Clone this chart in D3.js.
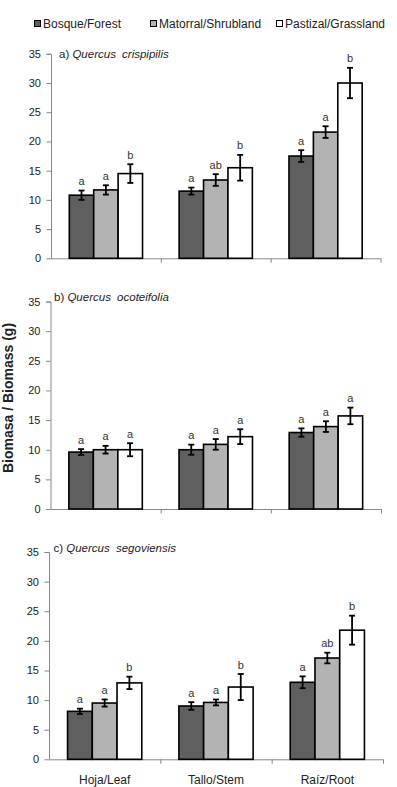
<!DOCTYPE html>
<html>
<head>
<meta charset="utf-8">
<script src="https://cdn.jsdelivr.net/npm/d3@7"></script>
<style>
  html, body { margin: 0; padding: 0; background: #fff; }
  svg { display: block; font-family: Arial, "Liberation Sans", sans-serif; }
</style>
</head>
<body>
<svg id="chart" width="397" height="787"></svg>
<script>
// ---------------- DATA ----------------
const categories = ["Hoja/Leaf", "Tallo/Stem", "Raíz/Root"];
const seriesNames = ["Bosque/Forest", "Matorral/Shrubland", "Pastizal/Grassland"];
const yTicks = [0, 5, 10, 15, 20, 25, 30, 35];
const panelLetters = ["a)", "b)", "c)"];
const speciesGenus = ["Quercus", "Quercus", "Quercus"];
const speciesEpithet = ["crispipilis", "ocoteifolia", "segoviensis"];

// means: rows = categories (Hoja, Tallo, Raíz); columns = series (Forest, Shrubland, Grassland)
const crispipilisMean = [[10.8, 11.7, 14.5], [11.5, 13.4, 15.5], [17.5, 21.6, 30.0]];
const crispipilisErr  = [[0.8, 0.8, 1.6],   [0.6, 1.0, 2.2],   [1.0, 1.0, 2.6]];
const crispipilisSig  = [["a", "a", "b"],  ["a", "ab", "b"],  ["a", "a", "b"]];

const ocoteifoliaMean = [[9.6, 10.0, 10.0], [10.0, 10.9, 12.2], [12.9, 13.9, 15.7]];
const ocoteifoliaErr  = [[0.5, 0.65, 1.1],  [0.85, 0.9, 1.25],  [0.7, 0.9, 1.4]];
const ocoteifoliaSig  = [["a", "a", "a"],  ["a", "a", "a"],    ["a", "a", "a"]];

const segoviensisMean = [[8.1, 9.5, 12.9], [9.0, 9.6, 12.2], [13.0, 17.1, 21.8]];
const segoviensisErr  = [[0.45, 0.6, 1.05], [0.65, 0.5, 2.2], [1.0, 0.9, 2.45]];
const segoviensisSig  = [["a", "a", "b"],  ["a", "a", "b"],  ["a", "ab", "b"]];

// ---------------- LAYOUT / STYLE ----------------
const fills = ["#5f5f5f", "#b3b3b3", "#ffffff"];
const axisColor = "#878787";
const textColor = "#222";

const panelData = [
  { mean: crispipilisMean, err: crispipilisErr, sig: crispipilisSig },
  { mean: ocoteifoliaMean, err: ocoteifoliaErr, sig: ocoteifoliaSig },
  { mean: segoviensisMean, err: segoviensisErr, sig: segoviensisSig }
];
const panelLayout = [
  { x0: 51,   x1: 380.5, yBottom: 258.3, yTop: 53.8,  titleX: 59,   titleY: 57.5 },
  { x0: 50.5, x1: 381,   yBottom: 509,   yTop: 301.5, titleX: 54,   titleY: 301 },
  { x0: 49,   x1: 383,   yBottom: 759.3, yTop: 552,   titleX: 53.5, titleY: 551.5 }
];

const svg = d3.select("#chart");

// ---------------- LEGEND ----------------
const legendX = [34.5, 150.5, 276.5];
const legend = svg.append("g");
seriesNames.forEach((name, i) => {
  legend.append("rect")
    .attr("x", legendX[i]).attr("y", 20.5)
    .attr("width", 6).attr("height", 6)
    .attr("fill", fills[i]).attr("stroke", "#000").attr("stroke-width", 1);
  legend.append("text")
    .attr("x", legendX[i] + 8.5).attr("y", 27.8)
    .attr("font-size", 12).attr("fill", textColor)
    .text(name);
});

// ---------------- PANELS ----------------
panelData.forEach((pd, pi) => {
  const L = panelLayout[pi];
  const g = svg.append("g");

  const y = d3.scaleLinear().domain([0, 35]).range([L.yBottom, L.yTop]);
  const x0 = d3.scaleBand().domain(categories).range([L.x0, L.x1]).padding(0);
  const bw = x0.bandwidth();
  const x1 = d3.scaleBand().domain(seriesNames).range([bw / 6, bw * 5 / 6]).padding(0);

  // y axis
  const yAxis = d3.axisLeft(y).tickValues(yTicks).tickSize(4.5).tickPadding(5.5);
  const ya = g.append("g").attr("transform", `translate(${L.x0},0)`).call(yAxis);
  ya.select(".domain").attr("stroke", axisColor).attr("d", `M-4.5,${L.yTop + 0.5}H0.5V${L.yBottom}`);
  ya.selectAll(".tick line").attr("stroke", axisColor);
  ya.selectAll(".tick text").attr("font-size", 11).attr("fill", textColor)
    .attr("font-family", "Arial, 'Liberation Sans', sans-serif");

  // x axis line with separator ticks
  const xa = g.append("g");
  xa.append("line")
    .attr("x1", L.x0).attr("x2", L.x1)
    .attr("y1", L.yBottom + 0.5).attr("y2", L.yBottom + 0.5)
    .attr("stroke", axisColor);
  const bounds = categories.map(c => x0(c)).concat([x0(categories[categories.length - 1]) + bw]);
  xa.selectAll("line.sep").data(bounds.slice(1)).enter().append("line")
    .attr("class", "sep")
    .attr("x1", d => d + 0.5).attr("x2", d => d + 0.5)
    .attr("y1", L.yBottom).attr("y2", L.yBottom + 4.5)
    .attr("stroke", axisColor);

  // title
  const t = g.append("text")
    .attr("x", L.titleX).attr("y", L.titleY)
    .attr("font-size", 11.5).attr("fill", textColor);
  t.append("tspan").text(panelLetters[pi] + " ");
  t.append("tspan").attr("font-style", "italic").text(speciesGenus[pi]);
  t.append("tspan").attr("font-style", "italic").attr("dx", 3).text(" " + speciesEpithet[pi]);

  // bars
  categories.forEach((cat, ci) => {
    const cg = g.append("g").attr("transform", `translate(${x0(cat)},0)`);
    seriesNames.forEach((s, si) => {
      const v = pd.mean[ci][si];
      const e = pd.err[ci][si];
      const bx = x1(s);
      const cx = bx + x1.bandwidth() / 2;
      cg.append("rect")
        .attr("x", bx).attr("y", y(v))
        .attr("width", x1.bandwidth()).attr("height", y(0) - y(v))
        .attr("fill", fills[si]).attr("stroke", "#000").attr("stroke-width", 1.6);
      // error bar
      cg.append("line")
        .attr("x1", cx).attr("x2", cx)
        .attr("y1", y(v - e)).attr("y2", y(v + e))
        .attr("stroke", "#000").attr("stroke-width", 1.8);
      [v - e, v + e].forEach(ev => {
        cg.append("line")
          .attr("x1", cx - 3).attr("x2", cx + 3)
          .attr("y1", y(ev)).attr("y2", y(ev))
          .attr("stroke", "#000").attr("stroke-width", 1.8);
      });
      // significance letter
      cg.append("text")
        .attr("x", cx).attr("y", y(v + e) - 5.5)
        .attr("text-anchor", "middle")
        .attr("font-size", 11).attr("fill", "#333")
        .text(pd.sig[ci][si]);
    });
  });

  // category labels on bottom panel only
  if (pi === panelData.length - 1) {
    g.selectAll("text.cat").data(categories).enter().append("text")
      .attr("class", "cat")
      .attr("x", d => x0(d) + bw / 2)
      .attr("y", 784)
      .attr("text-anchor", "middle")
      .attr("font-size", 12).attr("fill", textColor)
      .text(d => d);
  }
});

// y axis title
svg.append("text")
  .attr("transform", "translate(12.5,398) rotate(-90)")
  .attr("text-anchor", "middle")
  .attr("font-size", 14).attr("font-weight", "bold").attr("fill", textColor)
  .text("Biomasa / Biomass (g)");
</script>
</body>
</html>
